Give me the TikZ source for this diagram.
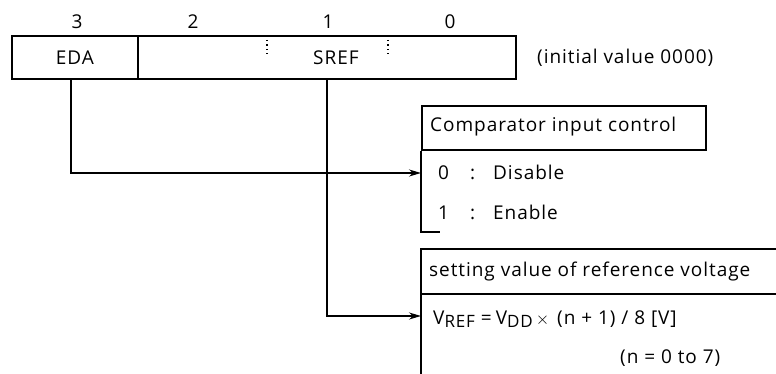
\documentclass[tikz,border=0pt]{standalone}
\usepackage{fontspec}
\setmainfont{Open Sans}[LetterSpace=5]
\usetikzlibrary{arrows.meta,positioning}
\tikzset{
field/.style={draw,line width=1.8pt,minimum height=43pt,inner sep=0pt,anchor=west},
bitnum/.style={inner sep=0pt},
txt/.style={inner sep=0pt,anchor=west},
frame/.style={line width=1.8pt},
arr/.style={-{Stealth[length=12pt,width=7pt]},line width=1.6pt},
sep/.style={line width=1.5pt,dash pattern=on 1.5pt off 3pt},
}
\tikzstyle{every node}=[font=\fontsize{19}{22}\selectfont]
\newcommand{\opt}[2]{\makebox[32pt][l]{#1}\makebox[23pt][l]{:}#2}
\newcommand{\vsub}[1]{\raisebox{-3.5pt}{\fontsize{17}{17}\selectfont #1}}

\begin{document}
\begin{tikzpicture}[x=1pt,y=-1pt]
    \useasboundingbox (0,0) rectangle (776,374);
    % register
    \node[field, minimum width=126pt] (eda) at (11,57.5) {EDA};
    \node[field, minimum width=378pt] (sref) at (137,57.5) {\hspace{18pt}\raisebox{-5pt}{SREF}};
    \draw[sep] (267,40) -- (267,54);
    \draw[sep] (388,40) -- (388,54);
    \node[bitnum] (b3) at (77,22) {3};
    \node[bitnum] (b2) at (193,22) {2};
    \node[bitnum] (b1) at (328,22) {1};
    \node[bitnum] (b0) at (450,22) {0};
    \node[txt] (init) at (537,58) {(initial value 0000)};

    % comparator input control
    \node[draw, frame, anchor=north west, minimum width=284pt, minimum height=44pt,
          inner sep=0pt] (cmp) at (421,105) {};
    \node[txt] (cmptitle) at (430,127) {Comparator input control};
    \draw[frame] (cmp.south west) -- (421,232) -- (440,232);
    \node[txt] (dis) at (438,172) {\opt{0}{Disable}};
    \node[txt] (ena) at (438,212) {\opt{1}{Enable}};
    \coordinate (cmpin) at (421,173);

    % reference voltage
    \draw[frame] (776,249) -- (421,249) -- (421,374);
    \draw[frame] (421,294) -- (776,294);
    \node[txt] (vreftitle) at (429,272) {setting value of reference voltage};
    \node[txt] (vref) at (433,319) {V\vsub{REF}\hspace{6pt}=\hspace{4pt}V\vsub{DD}\hspace{3pt}$\times$\hspace{8pt}(n + 1) / 8 [V]};
    \node[txt] (range) at (620,358) {(n = 0 to 7)};
    \coordinate (vrefin) at (421,316);

    \draw[arr] (eda.south -| 71,0) |- (cmpin);
    \draw[arr] (sref.south -| 327,0) |- (vrefin);
\end{tikzpicture}
\end{document}
